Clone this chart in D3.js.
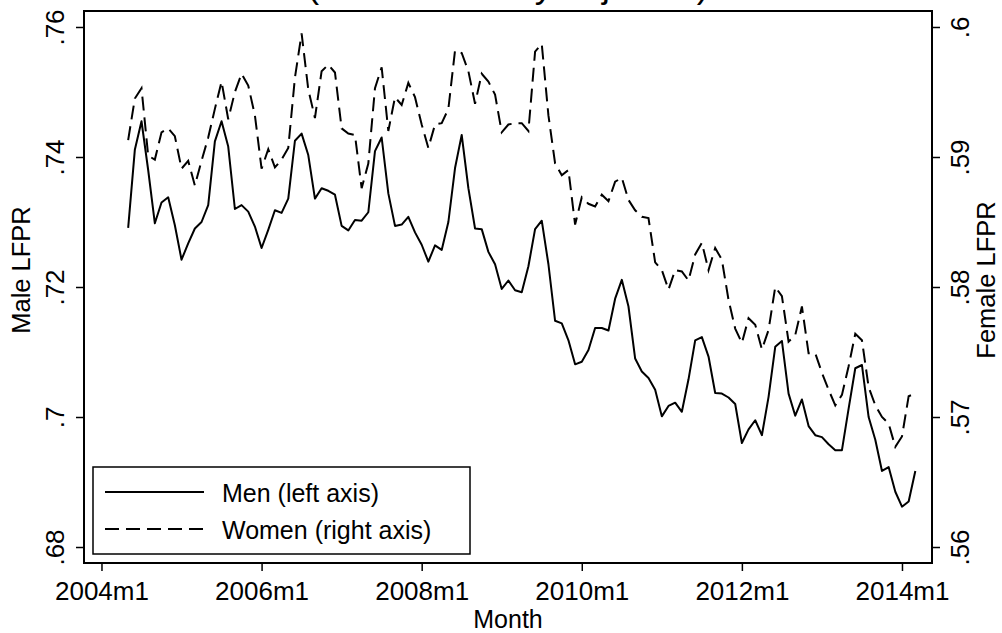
<!DOCTYPE html>
<html><head><meta charset="utf-8">
<script src="https://cdn.jsdelivr.net/npm/d3@7"></script>
<style>
body{margin:0;background:#fff;}
svg{display:block;font-family:"Liberation Sans",Arial,Helvetica,sans-serif;}
</style></head>
<body>
<svg id="chart" width="1002" height="633"></svg>
<script>
// Months indexed from 2004m1 = 0; series runs 2004m5 .. 2014m3
const startIndex = 4;
const men = [0.7291,0.7411,0.7455,0.7380,0.7298,0.7330,0.7338,0.7295,0.7242,0.7267,0.7290,0.7300,0.7326,0.7424,0.7455,0.7416,0.7320,0.7326,0.7316,0.7293,0.7260,0.7288,0.7318,0.7314,0.7336,0.7425,0.7436,0.7403,0.7336,0.7352,0.7348,0.7342,0.7294,0.7287,0.7303,0.7302,0.7315,0.7409,0.7430,0.7344,0.7294,0.7296,0.7308,0.7284,0.7265,0.7239,0.7264,0.7257,0.7300,0.7383,0.7434,0.7352,0.7290,0.7289,0.7254,0.7235,0.7197,0.7210,0.7195,0.7192,0.7232,0.7289,0.7302,0.7235,0.7148,0.7144,0.7118,0.7081,0.7085,0.7103,0.7137,0.7137,0.7133,0.7182,0.7211,0.7170,0.7090,0.7070,0.7060,0.7042,0.7001,0.7017,0.7022,0.7008,0.7058,0.7118,0.7123,0.7093,0.7037,0.7036,0.7030,0.7020,0.6960,0.6981,0.6995,0.6972,0.7031,0.7108,0.7117,0.7036,0.7002,0.7027,0.6986,0.6972,0.6969,0.6958,0.6949,0.6949,0.7013,0.7075,0.7080,0.7000,0.6965,0.6917,0.6923,0.6885,0.6862,0.6870,0.6917];
const women = [0.5913,0.5945,0.5953,0.5901,0.5898,0.5919,0.5922,0.5916,0.5891,0.5897,0.5878,0.5897,0.5915,0.5937,0.5958,0.5929,0.5950,0.5964,0.5955,0.5932,0.5891,0.5906,0.5892,0.5898,0.5907,0.5961,0.5995,0.5952,0.5930,0.5966,0.5971,0.5965,0.5922,0.5918,0.5917,0.5876,0.5895,0.5953,0.5969,0.5920,0.5946,0.5940,0.5957,0.5946,0.5925,0.5907,0.5925,0.5926,0.5937,0.5982,0.5980,0.5966,0.5941,0.5964,0.5958,0.5948,0.5919,0.5925,0.5926,0.5926,0.5920,0.5981,0.5987,0.5932,0.5895,0.5886,0.5890,0.5848,0.5869,0.5864,0.5862,0.5871,0.5866,0.5881,0.5884,0.5867,0.5859,0.5854,0.5853,0.5819,0.5813,0.5798,0.5813,0.5812,0.5805,0.5825,0.5834,0.5813,0.5830,0.5821,0.5790,0.5768,0.5757,0.5776,0.5771,0.5752,0.5767,0.5800,0.5793,0.5758,0.5763,0.5785,0.5749,0.5749,0.5734,0.5721,0.5709,0.5717,0.5739,0.5764,0.5759,0.5723,0.5709,0.5700,0.5695,0.5677,0.5685,0.5716,0.5718];
const xTickValues = [0,24,48,72,96,120];
const xTickLabels = ["2004m1","2006m1","2008m1","2010m1","2012m1","2014m1"];
const leftTickValues = [0.68,0.70,0.72,0.74,0.76];
const leftTickLabels = [".68",".7",".72",".74",".76"];
const rightTickValues = [0.56,0.57,0.58,0.59,0.60];
const rightTickLabels = [".56",".57",".58",".59",".6"];
const seriesNames = ["Men (left axis)","Women (right axis)"];

const svg = d3.select("#chart");
const L=84,R=932,T=11,B=563;
const x = d3.scaleLinear().domain([-2.62,124.5]).range([L,R]);
const yL = d3.scaleLinear().domain([0.67754,0.76246]).range([B,T]);
const yR = d3.scaleLinear().domain([0.55877,0.60123]).range([B,T]);

const menData = men.map((v,i)=>({m:startIndex+i,v}));
const womenData = women.map((v,i)=>({m:startIndex+i,v}));

// Title (partially cut off at the top, as in the source image)
svg.append("text").attr("x",508).attr("y",-2).attr("text-anchor","middle")
  .attr("font-size",35.6).text("(Not seasonally adjusted)");

// Axes
const fs = 26;
const gx = svg.append("g").attr("transform",`translate(0,${B})`)
  .call(d3.axisBottom(x).tickValues(xTickValues).tickFormat((d,i)=>xTickLabels[i]).tickSize(8).tickSizeOuter(0));
gx.select(".domain").remove();
gx.selectAll("text").attr("y",37).attr("dy",null).attr("font-size",fs).attr("fill","#000");
gx.selectAll("line").attr("stroke","#000").attr("stroke-width",1.5);

const gl = svg.append("g").attr("transform",`translate(${L},0)`)
  .call(d3.axisLeft(yL).tickValues(leftTickValues).tickFormat((d,i)=>leftTickLabels[i]).tickSize(8).tickSizeOuter(0));
gl.select(".domain").remove();
gl.selectAll("text").attr("x",null).attr("dy",null).attr("text-anchor","middle")
  .attr("transform","translate(-20,0) rotate(-90)").attr("font-size",fs).attr("fill","#000");
gl.selectAll("line").attr("stroke","#000").attr("stroke-width",1.5);

const gr = svg.append("g").attr("transform",`translate(${R},0)`)
  .call(d3.axisRight(yR).tickValues(rightTickValues).tickFormat((d,i)=>rightTickLabels[i]).tickSize(8).tickSizeOuter(0));
gr.select(".domain").remove();
gr.selectAll("text").attr("x",null).attr("dy",null).attr("text-anchor","middle")
  .attr("transform","translate(37,0) rotate(-90)").attr("font-size",fs).attr("fill","#000");
gr.selectAll("line").attr("stroke","#000").attr("stroke-width",1.5);

// Frame
svg.append("rect").attr("x",L).attr("y",T).attr("width",R-L).attr("height",B-T)
  .attr("fill","none").attr("stroke","#000").attr("stroke-width",2);

// Axis titles
svg.append("text").attr("transform",`translate(30,270) rotate(-90)`).attr("text-anchor","middle")
  .attr("font-size",25.5).text("Male LFPR");
svg.append("text").attr("transform",`translate(995,280) rotate(-90)`).attr("text-anchor","middle")
  .attr("font-size",25.5).text("Female LFPR");
svg.append("text").attr("x",508).attr("y",628).attr("text-anchor","middle")
  .attr("font-size",25).text("Month");

// Lines
const lineL = d3.line().x(d=>x(d.m)).y(d=>yL(d.v));
const lineR = d3.line().x(d=>x(d.m)).y(d=>yR(d.v));
svg.append("path").datum(menData).attr("d",lineL).attr("fill","none")
  .attr("stroke","#000").attr("stroke-width",2).attr("stroke-linejoin","round");
svg.append("path").datum(womenData).attr("d",lineR).attr("fill","none")
  .attr("stroke","#000").attr("stroke-width",2).attr("stroke-dasharray","14,7");

// Legend
const lg = svg.append("g");
lg.append("rect").attr("x",93).attr("y",467).attr("width",377).attr("height",87)
  .attr("fill","#fff").attr("stroke","#000").attr("stroke-width",1.5);
lg.append("line").attr("x1",105).attr("x2",204).attr("y1",492).attr("y2",492)
  .attr("stroke","#000").attr("stroke-width",2);
lg.append("line").attr("x1",105).attr("x2",204).attr("y1",529).attr("y2",529)
  .attr("stroke","#000").attr("stroke-width",2).attr("stroke-dasharray","14,7");
lg.append("text").attr("x",222).attr("y",502).attr("font-size",25).text(seriesNames[0]);
lg.append("text").attr("x",222).attr("y",539).attr("font-size",25).text(seriesNames[1]);
</script>
</body></html>
